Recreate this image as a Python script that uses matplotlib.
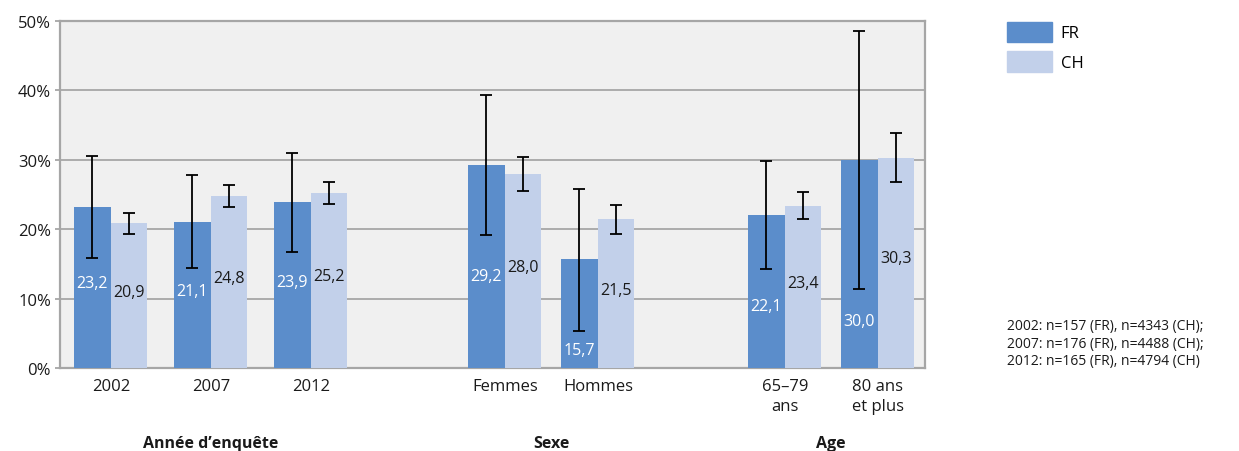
"""Barres FR vs CH avec intervalles de confiance, par année, sexe et âge."""

import matplotlib.pyplot as plt
import matplotlib.ticker as mticker
from matplotlib.patches import Patch

# ── Données ──────────────────────────────────────────────────────────────────

CATEGORIES = ["2002", "2007", "2012", "Femmes", "Hommes", "65–79\nans", "80 ans\net plus"]
FR_VALUES = [23.2, 21.1, 23.9, 29.2, 15.7, 22.1, 30.0]
CH_VALUES = [20.9, 24.8, 25.2, 28.0, 21.5, 23.4, 30.3]
FR_LOW = [15.8, 14.4, 16.7, 19.1, 5.4, 14.3, 11.4]
FR_HIGH = [30.6, 27.8, 31.0, 39.3, 25.8, 29.8, 48.5]
CH_LOW = [19.3, 23.2, 23.6, 25.5, 19.3, 21.5, 26.8]
CH_HIGH = [22.4, 26.4, 26.8, 30.4, 23.5, 25.3, 33.8]
GROUPS = ["Année d’enquête", "Sexe", "Age"]
NOTE = (
    "2002: n=157 (FR), n=4343 (CH);\n"
    "2007: n=176 (FR), n=4488 (CH);\n"
    "2012: n=165 (FR), n=4794 (CH)"
)

# ── Mise en page ─────────────────────────────────────────────────────────────

X_POS = [111, 211, 311, 505, 598, 785, 878]
GROUP_X = [211, 551, 831]
FR_LABEL_Y = [12.2, 11.1, 12.4, 13.2, 2.6, 9.0, 6.8]
CH_LABEL_Y = [11.0, 13.0, 13.2, 14.6, 11.2, 12.3, 15.8]
BAR_W = 37
FR_COLOR = "#5b8dcb"
CH_COLOR = "#c2d0ea"
GRID_COLOR = "#a6a6a6"
TEXT_COLOR = "#1a1a1a"

plt.rcParams["font.family"] = ["Open Sans", "DejaVu Sans"]


def main() -> None:
    fig = plt.figure(figsize=(12.39, 4.52), dpi=100)
    ax = fig.add_axes([60 / 1239, 83 / 452, 865 / 1239, 347 / 452])
    ax.set_facecolor("#f0f0f0")

    fr_err = [
        [v - lo for v, lo in zip(FR_VALUES, FR_LOW)],
        [hi - v for v, hi in zip(FR_VALUES, FR_HIGH)],
    ]
    ch_err = [
        [v - lo for v, lo in zip(CH_VALUES, CH_LOW)],
        [hi - v for v, hi in zip(CH_VALUES, CH_HIGH)],
    ]
    err_kw = {"elinewidth": 1.3, "capthick": 1.3, "ecolor": "black"}
    fr_x = [x - BAR_W / 2 for x in X_POS]
    ch_x = [x + BAR_W / 2 for x in X_POS]
    ax.bar(fr_x, FR_VALUES, width=BAR_W, color=FR_COLOR, yerr=fr_err,
           capsize=4.5, error_kw=err_kw, zorder=3)
    ax.bar(ch_x, CH_VALUES, width=BAR_W - 1, color=CH_COLOR, yerr=ch_err,
           capsize=4.5, error_kw=err_kw, zorder=3)

    # Étiquettes de valeur (virgule décimale)
    for x, v, y in zip(fr_x, FR_VALUES, FR_LABEL_Y):
        ax.text(x, y, f"{v:.1f}".replace(".", ","), ha="center", va="center",
                color="white", fontsize=11.5, zorder=4)
    for x, v, y in zip(ch_x, CH_VALUES, CH_LABEL_Y):
        ax.text(x, y, f"{v:.1f}".replace(".", ","), ha="center", va="center",
                color=TEXT_COLOR, fontsize=11.5, zorder=4)

    ax.set_xlim(60, 925)
    ax.set_ylim(0, 50)
    ax.yaxis.set_major_locator(mticker.MultipleLocator(10))
    ax.yaxis.set_major_formatter(mticker.FuncFormatter(lambda y, _: f"{int(y)}%"))
    ax.grid(axis="y", color=GRID_COLOR, linewidth=1.3, zorder=1)
    ax.set_axisbelow(True)
    for spine in ax.spines.values():
        spine.set_color(GRID_COLOR)
        spine.set_linewidth(1.6)

    ax.set_xticks(X_POS)
    ax.set_xticklabels(CATEGORIES, fontsize=12, color=TEXT_COLOR, linespacing=1.35)
    ax.tick_params(axis="x", length=0, pad=7)
    ax.tick_params(axis="y", length=3.5, color=GRID_COLOR, width=1.3,
                   labelsize=12, labelcolor=TEXT_COLOR, pad=3)

    for gx, name in zip(GROUP_X, GROUPS):
        ax.text(gx, -10.8, name, ha="center", va="center", fontsize=11.5,
                fontweight="bold", color=TEXT_COLOR, clip_on=False)

    handles = [Patch(color=FR_COLOR, label="FR"), Patch(color=CH_COLOR, label="CH")]
    fig.legend(handles=handles, loc="upper left", bbox_to_anchor=(1000 / 1239, 1 - 16 / 452),
               frameon=False, fontsize=12, handlelength=2.7, handleheight=1.5,
               handletextpad=0.55, labelspacing=0.55, borderaxespad=0)

    fig.text(1007 / 1239, 1 - 319 / 452, NOTE, ha="left", va="top", fontsize=10,
             color=TEXT_COLOR, linespacing=1.25)

    fig.savefig("out.png", dpi=100)
    plt.close(fig)


if __name__ == "__main__":
    main()
